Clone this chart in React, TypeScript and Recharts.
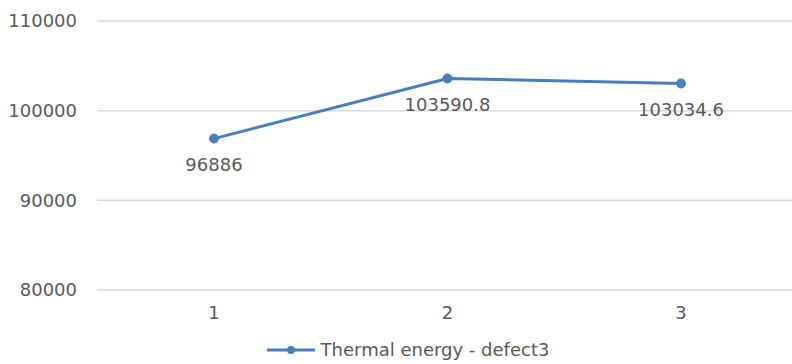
import React from 'react';
import { LineChart, Line, XAxis, YAxis, CartesianGrid, Legend, LabelList } from 'recharts';

const categories = ['1', '2', '3'];
const thermalEnergy = [96886, 103590.8, 103034.6];
const yTicks = [80000, 90000, 100000, 110000];
const seriesName = 'Thermal energy - defect3';

const data = categories.map((c, i) => ({ name: c, value: thermalEnergy[i] }));

const FONT = '"DejaVu Sans", sans-serif';
const TEXT = '#595959';
const BLUE = '#4a7ebb';

const LegendContent = () => (
  <div
    style={{
      display: 'flex',
      justifyContent: 'center',
      alignItems: 'center',
      fontFamily: FONT,
      fontSize: 18,
      color: TEXT,
      paddingTop: 9,
      paddingLeft: 18,
    }}
  >
    <svg width={50} height={12} style={{ marginRight: 4 }}>
      <line x1={0} y1={6} x2={48} y2={6} stroke={BLUE} strokeWidth={3} />
      <circle cx={24} cy={6} r={4} fill={BLUE} />
    </svg>
    <span>{seriesName}</span>
  </div>
);

export default function App() {
  return (
    <div style={{ position: 'absolute', left: 0, top: 0, width: 792, height: 364, overflow: 'hidden', background: '#fff' }}>
      <LineChart width={800} height={364} data={data} margin={{ top: 21, right: 2, bottom: 0, left: 0 }}>
        <CartesianGrid vertical={false} stroke="#d9d9d9" strokeWidth={1.5} />
        <XAxis
          dataKey="name"
          axisLine={false}
          tickLine={false}
          height={40}
          tickMargin={10}
          padding={{ left: 117, right: 117 }}
          tick={{ fill: TEXT, fontSize: 18, fontFamily: FONT }}
        />
        <YAxis
          domain={[80000, 110000]}
          ticks={yTicks}
          axisLine={false}
          tickLine={false}
          width={97}
          tickMargin={14}
          tick={{ fill: TEXT, fontSize: 18, fontFamily: FONT }}
        />
        <Legend verticalAlign="bottom" height={34} content={<LegendContent />} />
        <Line
          type="linear"
          dataKey="value"
          name={seriesName}
          stroke={BLUE}
          strokeWidth={3}
          dot={{ r: 4.5, fill: BLUE, stroke: BLUE, strokeWidth: 1 }}
          isAnimationActive={false}
        >
          <LabelList
            dataKey="value"
            position="bottom"
            offset={20}
            fill={TEXT}
            fontSize={18}
            fontFamily={FONT}
          />
        </Line>
      </LineChart>
    </div>
  );
}
